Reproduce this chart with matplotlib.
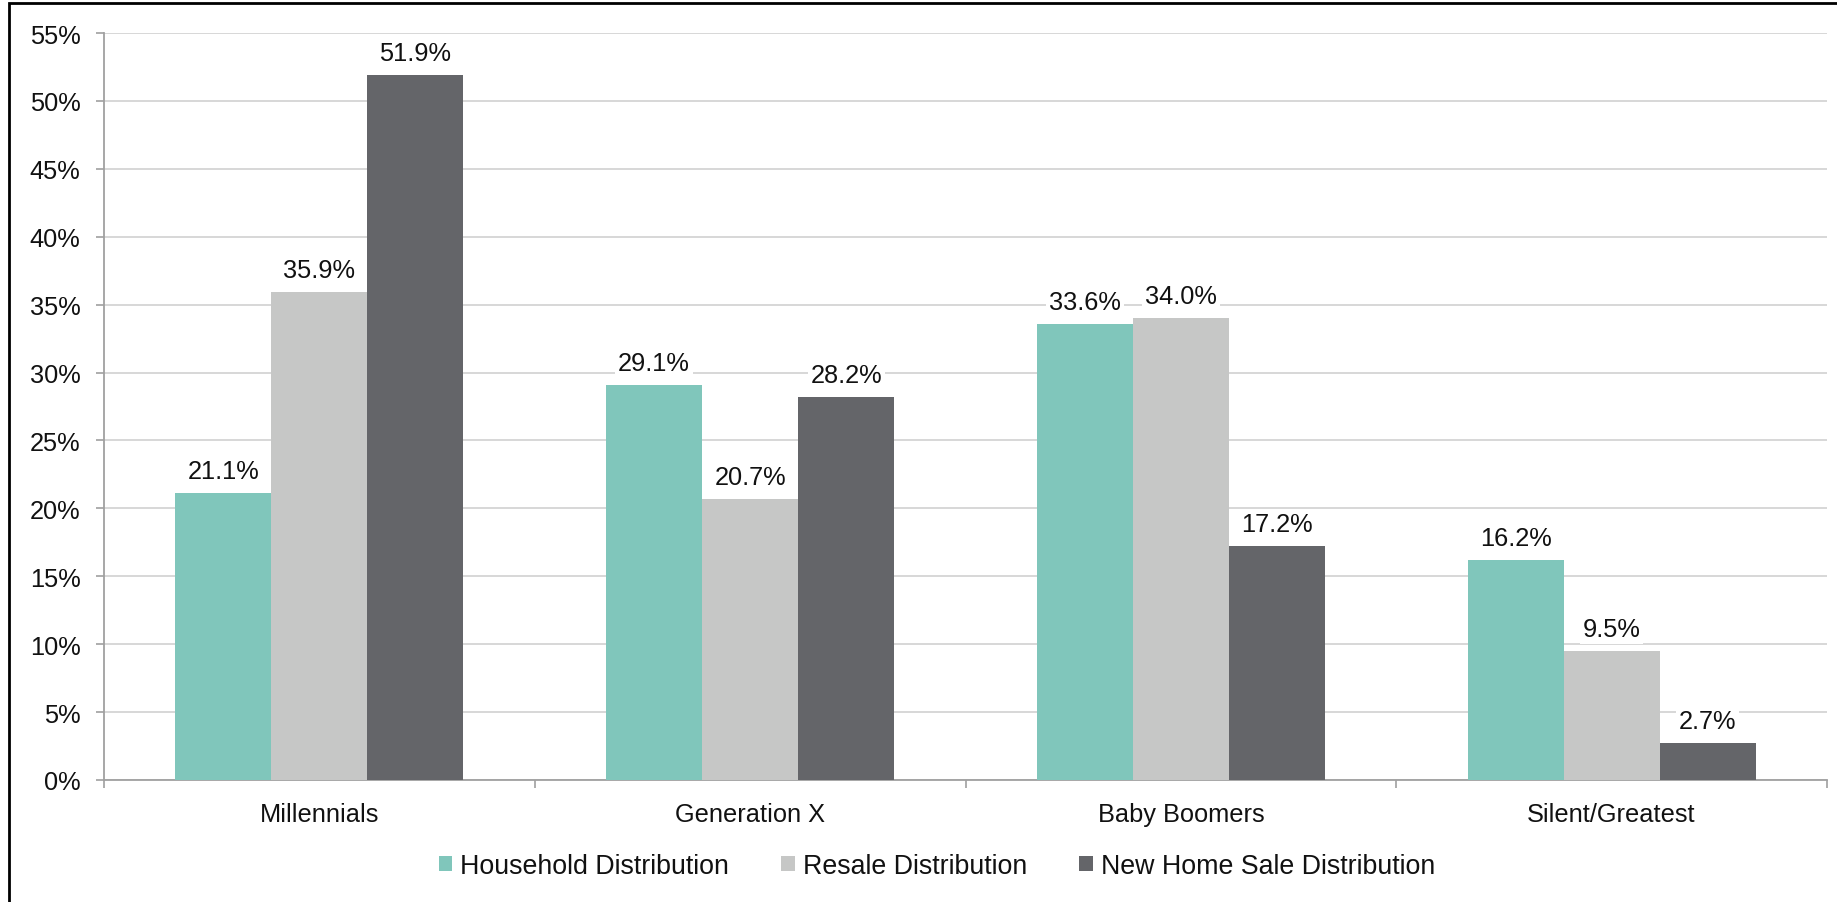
import numpy as np
import matplotlib.pyplot as plt
from matplotlib.patches import Rectangle

plt.rcParams['font.family'] = ['Liberation Sans', 'DejaVu Sans']

categories = ["Millennials", "Generation X", "Baby Boomers", "Silent/Greatest"]
household = [21.1, 29.1, 33.6, 16.2]
resale = [35.9, 20.7, 34.0, 9.5]
new_home = [51.9, 28.2, 17.2, 2.7]
series_names = ["Household Distribution", "Resale Distribution", "New Home Sale Distribution"]
colors = ["#80C6BB", "#C6C7C6", "#646569"]

fs = 18.3
fig = plt.figure(figsize=(18.37, 9.03), dpi=100)
ax = fig.add_axes([104/1837, 1-781/903, (1827-104)/1837, (781-34)/903])

x = np.arange(len(categories))
w = 0.223
for i, (vals, name, c) in enumerate(zip([household, resale, new_home], series_names, colors)):
    bars = ax.bar(x + (i-1)*w, vals, w, color=c, label=name, zorder=3)
    for b, v in zip(bars, vals):
        ax.text(b.get_x()+b.get_width()/2, v+1.1, f"{v:.1f}%", ha='center', va='baseline',
                fontsize=fs, color='#111111', zorder=4,
                bbox=dict(facecolor='white', edgecolor='none', pad=2))

ax.set_xlim(-0.5, 3.5)
ax.set_ylim(0, 55)
ax.set_yticks(np.arange(0, 56, 5))
ax.set_yticklabels([f"{t}%" for t in range(0, 56, 5)], fontsize=fs, color='#111111')
ax.set_xticks(x)
ax.set_xticklabels(categories, fontsize=fs, color='#111111')
ax.tick_params(axis='x', length=0, pad=16)
ax.tick_params(axis='y', length=6, color='#A0A0A0', width=1.2, pad=11)
# separators between categories
ax.set_xticks(np.arange(-0.5, 4, 1), minor=True)
ax.tick_params(axis='x', which='minor', length=6, color='#A0A0A0', width=1.2)
ax.yaxis.grid(True, color='#D4D4D4', linewidth=1.3, zorder=0)
for s in ['top', 'right']:
    ax.spines[s].set_visible(False)
for s in ['left', 'bottom']:
    ax.spines[s].set_color('#A0A0A0')
    ax.spines[s].set_linewidth(1.3)

fig.legend(loc='center', bbox_to_anchor=(937/1837, 1-867/903), ncol=3, frameon=False,
           fontsize=19.3, handlelength=0.5, handleheight=0.5, handletextpad=0.3,
           columnspacing=1.95, labelcolor='#111111')

# outer frame
fig.patches.append(Rectangle((9/1837, -0.01), 1.0, 1-4/903+0.01, transform=fig.transFigure,
                             fill=False, edgecolor='black', linewidth=2))

fig.savefig('out.png', dpi=100)
